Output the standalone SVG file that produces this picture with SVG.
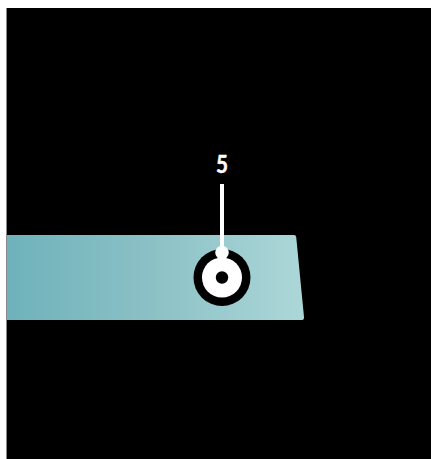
<svg xmlns="http://www.w3.org/2000/svg" width="431" height="459" viewBox="0 0 431 459">
<defs>
<linearGradient id="g" gradientUnits="userSpaceOnUse" x1="7" x2="304" y1="0" y2="0"><stop offset="0" stop-color="#6fb2bb"/><stop offset="0.5" stop-color="#8cc1c6"/><stop offset="1" stop-color="#acd7d8"/></linearGradient>
</defs>
<style>.w{fill:#fff}.k{fill:#000}</style>
<rect width="431" height="459" fill="#fff"/>
<rect x="6" y="8" width="425" height="451" fill="#000"/>
<rect x="6" y="8" width="1" height="451" fill="#888"/>
<g id="panel"><path d="M7 235H294Q296 235 296.200 237L304 317Q304.200 320 302 320H7Z" fill="url(#g)"/></g>
<g id="connector-socket">
<circle cx="222" cy="277.500" r="28.500" class="k"/>
<circle cx="222" cy="277.500" r="20" class="w"/>
<circle cx="222" cy="277.500" r="6.200" class="k"/>
</g>
<g id="connectors">
<rect x="220" y="184" width="4" height="66" class="w"/>
<circle cx="222" cy="252.500" r="6.800" class="w"/>
</g>
<g id="label"><text x="222" y="173" text-anchor="middle" font-family="'Lato','Noto Sans',sans-serif" font-size="25" font-weight="700" fill="#fff" stroke="#fff" stroke-width="0.500" textLength="12" lengthAdjust="spacingAndGlyphs">5</text></g>
</svg>
